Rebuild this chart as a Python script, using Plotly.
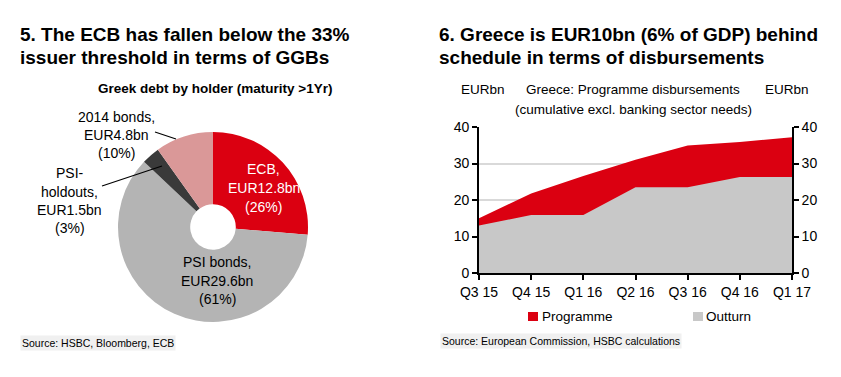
import plotly.graph_objects as go

W, H = 841, 377
OFF = 8  # page body margin offset

# ---- Data ----
holders = ["ECB", "PSI bonds", "PSI-holdouts", "2014 bonds"]
holdings_bn = [12.8, 29.6, 1.5, 4.8]
holdings_pct = [26, 61, 3, 10]
pie_colors = ["#DB0011", "#B4B4B4", "#3A3A3A", "#DA9898"]

quarters = ["Q3 15", "Q4 15", "Q1 16", "Q2 16", "Q3 16", "Q4 16", "Q1 17"]
programme = [15.0, 21.8, 26.6, 31.0, 34.9, 35.9, 37.2]
outturn = [13.0, 15.9, 15.9, 23.5, 23.5, 26.3, 26.3]

FONT = "Liberation Sans, Arial, sans-serif"
RED = "#DB0011"
GREY = "#C8C8C8"


def px(x):
    return (x - OFF) / W


def py(y):
    return 1 - (y - OFF) / H


fig = go.Figure()

# ---- Pie (donut) ----
fig.add_trace(go.Pie(
    labels=holders,
    values=holdings_bn,
    marker=dict(colors=pie_colors, line=dict(width=0)),
    hole=0.24,
    sort=False,
    direction="clockwise",
    rotation=0,
    textinfo="none",
    hoverinfo="label+value+percent",
    showlegend=False,
    domain=dict(x=[px(118), px(308)], y=[py(322), py(132)]),
))

# ---- Area chart ----
fig.add_trace(go.Scatter(
    x=quarters, y=programme, name="Programme", mode="lines",
    fill="tozeroy", fillcolor=RED, line=dict(width=0, color=RED),
    showlegend=False, xaxis="x", yaxis="y",
))
fig.add_trace(go.Scatter(
    x=quarters, y=outturn, name="Outturn", mode="lines",
    fill="tozeroy", fillcolor=GREY, line=dict(width=0, color=GREY),
    showlegend=False, xaxis="x", yaxis="y",
))
fig.add_trace(go.Scatter(
    x=quarters, y=programme, mode="lines", opacity=0,
    line=dict(width=0), hoverinfo="skip", showlegend=False,
    xaxis="x", yaxis="y2",
))

tickfont = dict(family=FONT, size=14, color="#000")

fig.update_layout(
    width=W, height=H,
    margin=dict(l=0, r=0, t=0, b=0, pad=0, autoexpand=False),
    showlegend=False,
    paper_bgcolor="white", plot_bgcolor="white",
    xaxis=dict(
        domain=[px(479), px(792)], type="category", range=[0, 6],
        showline=True, linecolor="#000", linewidth=1.6,
        ticks="outside", ticklen=5, tickcolor="#000", tickwidth=1.6,
        tickfont=tickfont, showgrid=False, zeroline=False, fixedrange=True,
        automargin=False,
    ),
    yaxis=dict(
        domain=[py(273), py(127)], range=[0, 40], tickvals=[0, 10, 20, 30, 40],
        showline=True, linecolor="#000", linewidth=1.6,
        ticks="outside", ticklen=5, tickcolor="#000", tickwidth=1.6,
        tickfont=tickfont, showgrid=True, gridcolor="#D9D9D9", gridwidth=1.5,
        zeroline=False, fixedrange=True, automargin=False,
    ),
    yaxis2=dict(
        overlaying="y", side="right", anchor="x", range=[0, 40],
        tickvals=[0, 10, 20, 30, 40],
        showline=True, linecolor="#000", linewidth=1.6,
        ticks="outside", ticklen=5, tickcolor="#000", tickwidth=1.6,
        tickfont=tickfont, showgrid=False, zeroline=False, fixedrange=True,
        automargin=False,
    ),
)

ann = []
shapes = []


def text(x, y, s, size=13, color="#000", xanchor="center", bgcolor=None):
    d = dict(x=px(x), y=py(y), xref="paper", yref="paper", text=s, showarrow=False,
             xanchor=xanchor, yanchor="middle", align="center",
             font=dict(family=FONT, size=size, color=color))
    if bgcolor:
        d["bgcolor"] = bgcolor
    ann.append(d)


# Titles
TS = 19
text(18, 34, "<b>5. The ECB has fallen below the 33%</b>", size=TS, xanchor="left")
text(18, 57, "<b>issuer threshold in terms of GGBs</b>", size=TS, xanchor="left")
text(437, 34, "<b>6. Greece is EUR10bn (6% of GDP) behind</b>", size=TS, xanchor="left")
text(437, 57, "<b>schedule in terms of disbursements</b>", size=TS, xanchor="left")

# Pie subtitle
text(215, 88, "<b>Greek debt by holder (maturity &gt;1Yr)</b>", size=13.5)

# Pie labels
LS = 14
text(116, 117, "2014 bonds,", size=LS)
text(116, 135, f"EUR{holdings_bn[3]}bn", size=LS)
text(116, 153, f"({holdings_pct[3]}%)", size=LS)

text(70, 173, "PSI-", size=LS)
text(70, 192, "holdouts,", size=LS)
text(70, 210, f"EUR{holdings_bn[2]}bn", size=LS)
text(70, 228, f"({holdings_pct[2]}%)", size=LS)

text(264, 169, "ECB,", size=LS, color="white")
text(264, 188, f"EUR{holdings_bn[0]}bn", size=LS, color="white")
text(264, 207, f"({holdings_pct[0]}%)", size=LS, color="white")

text(217, 262, "PSI bonds,", size=LS)
text(217, 281, f"EUR{holdings_bn[1]}bn", size=LS)
text(217, 299, f"({holdings_pct[1]}%)", size=LS)

# leader lines
shapes.append(dict(type="line", xref="paper", yref="paper",
                   x0=px(155), y0=py(132), x1=px(176), y1=py(139),
                   line=dict(color="#000", width=1.2)))
shapes.append(dict(type="line", xref="paper", yref="paper",
                   x0=px(102), y0=py(186), x1=px(162), y1=py(166),
                   line=dict(color="#000", width=1.2)))

# Area chart header
text(483, 90, "EURbn", size=13.5)
text(787, 90, "EURbn", size=13.5)
text(633, 90, "Greece: Programme disbursements", size=13.5)
text(633, 109, "(cumulative excl. banking sector needs)", size=13.5)

# Legend
shapes.append(dict(type="rect", xref="paper", yref="paper",
                   x0=px(528), x1=px(538), y0=py(321), y1=py(312),
                   fillcolor=RED, line=dict(width=0)))
text(540, 316, "Programme", size=13.5, xanchor="left")
shapes.append(dict(type="rect", xref="paper", yref="paper",
                   x0=px(693), x1=px(703), y0=py(321), y1=py(312),
                   fillcolor=GREY, line=dict(width=0)))
text(704, 316, "Outturn", size=13.5, xanchor="left")

# Sources
text(20, 343, "Source: HSBC, Bloomberg, ECB", size=10.5, xanchor="left", bgcolor="#F0F0F0")
text(440, 341, "Source: European Commission, HSBC calculations", size=10.5, xanchor="left", bgcolor="#F0F0F0")

fig.update_layout(annotations=ann, shapes=shapes)

fig.write_html("out.html")
